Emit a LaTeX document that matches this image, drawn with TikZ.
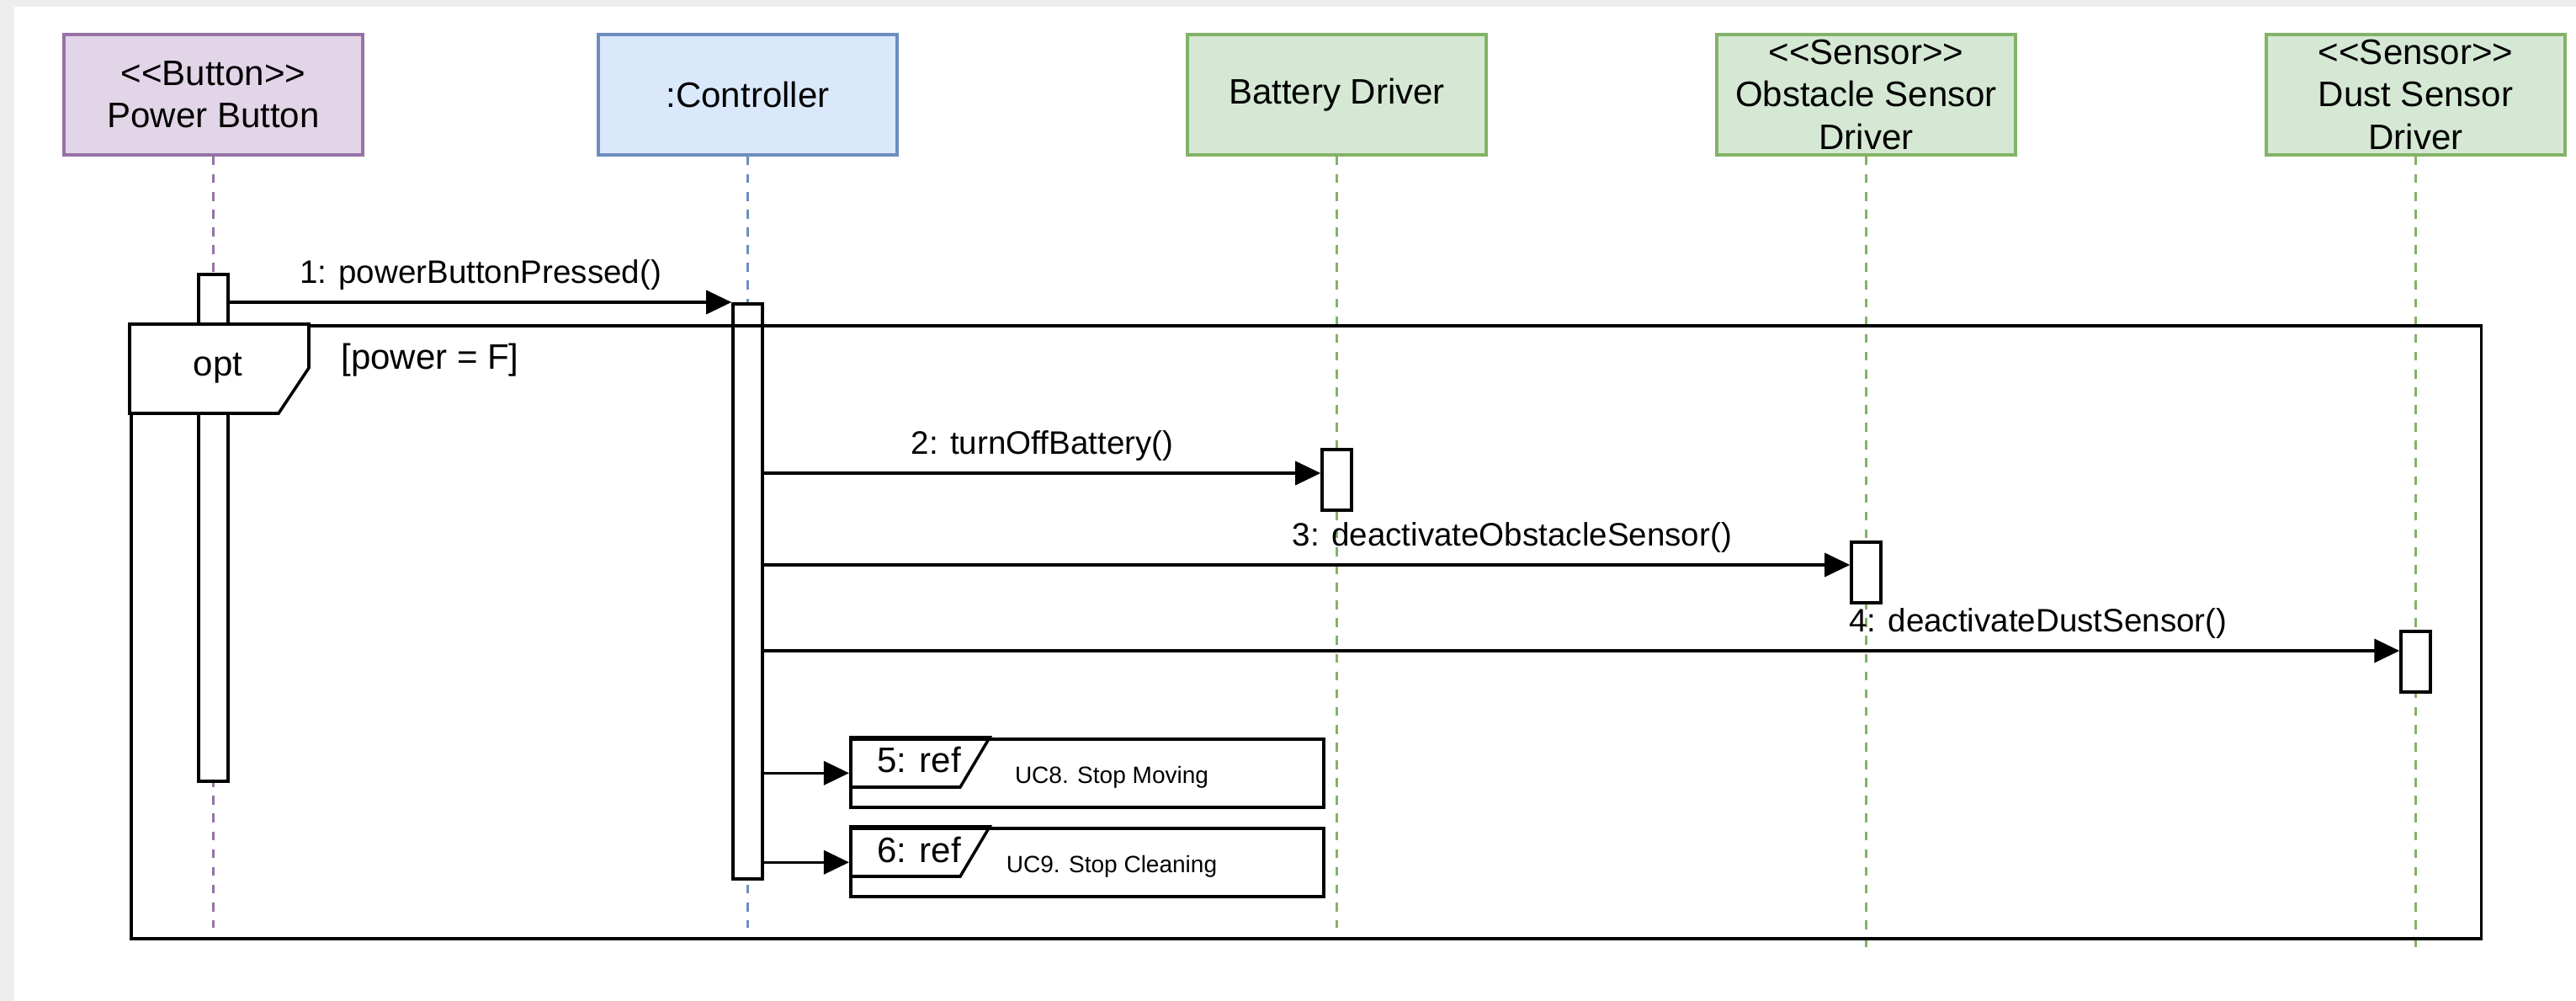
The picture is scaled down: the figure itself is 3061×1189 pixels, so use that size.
\documentclass[tikz,border=0pt]{standalone}
\usepackage{fontspec}
\setmainfont{Liberation Sans}
\usetikzlibrary{
    arrows.meta,
    calc
}
\definecolor{bggray}{HTML}{EEEEEE}
\definecolor{purpleline}{HTML}{9673A6}
\definecolor{purplefill}{HTML}{E1D5E7}
\definecolor{blueline}{HTML}{6C8EBF}
\definecolor{bluefill}{HTML}{DAE8FC}
\definecolor{greenline}{HTML}{82B366}
\definecolor{greenfill}{HTML}{D5E8D4}
\newcommand{\stereo}[1]{<\kern0pt<#1>\kern0pt>}

\begin{document}
\begin{tikzpicture}[x=0.01cm, y=0.01cm,
    head/.style={rectangle, draw=#1line, fill=#1fill, line width=1pt,
        minimum width=3.55cm, minimum height=1.43cm, inner sep=0pt,
        align=center, font=\fontsize{11.95}{14.3}\selectfont},
    life/.style={draw=#1line, line width=0.8pt, dash pattern=on 3pt off 3pt},
    bar/.style={rectangle, draw, fill=white, line width=1pt,
        minimum width=0.35cm, inner sep=0pt, anchor=north},
    msg/.style={line width=1pt, -{Triangle[length=0.3cm, width=0.28cm]}},
    lbl/.style={font=\fontsize{10.96}{13}\selectfont, inner sep=0pt},
    refbox/.style={rectangle, draw, fill=white, line width=1pt,
        minimum width=5.62cm, minimum height=0.81cm, inner sep=0pt, anchor=north west},
    big/.style={font=\fontsize{11.95}{14.3}\selectfont, inner sep=0pt}]
    % background
    \fill[bggray] (0,0) rectangle (3061,-1189);
    \fill[white] (17,-8) rectangle (3061,-1189);
    \useasboundingbox (0,0) rectangle (3061,-1189);
    % heads
    \node[head=purple] (pb) at (253.5,-112.5) {\stereo{Button}\\Power Button};
    \node[head=blue] (ctrl) at (888.5,-112.5) {:Controller};
    \node[head=green] (bat) at (1588.5,-112.5) {Battery Driver};
    \node[head=green] (obs) at (2217.5,-112.5) {\stereo{Sensor}\\Obstacle Sensor\\Driver};
    \node[head=green] (dust) at (2870.5,-112.5) {\stereo{Sensor}\\Dust Sensor\\Driver};
    % lifelines
    \foreach \n/\c/\e in {pb/purple/1102, ctrl/blue/1102, bat/green/1102, obs/green/1126, dust/green/1127}
        \draw[life=\c] (\n.south) -- (\n.south |- 0,-\e);
    % activation bars
    \node[bar, minimum height=6.02cm] (pbbar) at (pb.south |- 0,-324) {};
    \node[bar, minimum height=6.83cm] (ctrlbar) at (ctrl.south |- 0,-359) {};
    \node[bar, minimum height=0.72cm] (batbar) at (bat.south |- 0,-532) {};
    \node[bar, minimum height=0.72cm] (obsbar) at (obs.south |- 0,-642) {};
    \node[bar, minimum height=0.72cm] (dustbar) at (dust.south |- 0,-748) {};
    % opt frame
    \node[draw, line width=1pt, minimum width=27.91cm, minimum height=7.28cm,
        inner sep=0pt, anchor=north west] (frm) at (154,-385) {};
    \draw[line width=1pt, fill=white] (frm.north west) -- ++(213,0) -- ++(0,-52)
        -- ++(-36,-54) -- ++(-177,0) -- cycle;
    \node[big] (opt) at (259,-437) {opt};
    \node[big] (guard) at (511,-428) {[power = F]};
    % ref frames
    \foreach \i/\txt/\y in {5/UC8. Stop Moving/-876, 6/UC9. Stop Cleaning/-982} {
        \node[refbox] (ref\i) at (1009,\y) {};
        \draw[line width=1pt] (ref\i.north west) -- ++(167,0) -- ++(-35,-59) -- ++(-132,0);
        \node[big] (reftag\i) at ($(ref\i.north west)+(83,-27)$) {\i: ref};
        \node[font=\fontsize{7.97}{9}\selectfont] (refuc\i) at ($(ref\i.north west)+(312,-47)$) {\txt};
    }
    % messages
    \coordinate (m2) at ([yshift=-0.3cm]batbar.north west);
    \coordinate (m3) at ([yshift=-0.29cm]obsbar.north west);
    \coordinate (m4) at ([yshift=-0.25cm]dustbar.north west);
    \draw[msg] (pbbar.east |- ctrlbar.north) -- (ctrlbar.north west)
        node[lbl, midway, above=0.13cm] (m1lbl) {1: powerButtonPressed()};
    \draw[msg] (ctrlbar.east |- m2) -- (m2)
        node[lbl, midway, above=0.13cm] (m2lbl) {2: turnOffBattery()};
    \draw[msg] (ctrlbar.east |- m3) -- (m3)
        node[lbl, pos=0.689, above=0.13cm] (m3lbl) {3: deactivateObstacleSensor()};
    \draw[msg] (ctrlbar.east |- m4) -- (m4)
        node[lbl, pos=0.779, above=0.13cm] (m4lbl) {4: deactivateDustSensor()};
    \draw[msg] (ctrlbar.east |- ref5.west) -- (ref5.west);
    \draw[msg] (ctrlbar.east |- ref6.west) -- (ref6.west);
\end{tikzpicture}
\end{document}
